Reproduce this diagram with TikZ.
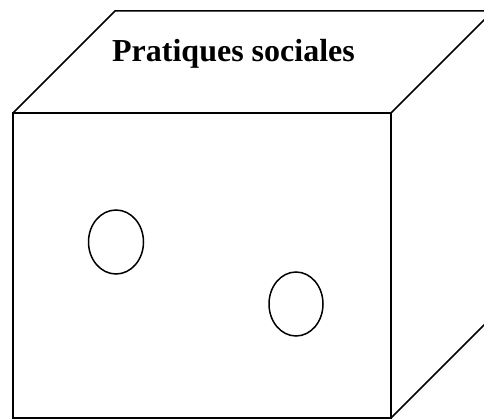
\documentclass[tikz,border=0pt]{standalone}
\usepackage{fontspec}
\setmainfont{Liberation Serif}
\begin{document}
\begin{tikzpicture}[x=1pt,y=-1pt,
  edge/.style={line width=1.5pt,line join=miter},
  hole/.style={line width=1.5pt}]
\useasboundingbox (0,0) rectangle (484,419);
\clip (0,0) rectangle (484,419);
\coordinate (ftl) at (13,113);
\coordinate (ftr) at (391,113);
\coordinate (fbl) at (13,418);
\coordinate (fbr) at (391,418);
\coordinate (btl) at (115,11);
\coordinate (btr) at (493,11);
\coordinate (bbr) at (493,316);
\draw[edge] (ftl) rectangle (fbr);
\draw[edge] (ftl) -- (btl) -- (btr) -- (ftr);
\draw[edge] (btr) -- (bbr) -- (fbr);
\node[anchor=base,font=\bfseries\fontsize{32}{36}\selectfont,inner sep=0pt] (title) at (233.5,62) {Pratiques sociales};
\draw[hole] (116,242) ellipse [x radius=27.5, y radius=32];
\draw[hole] (296,304) ellipse [x radius=27, y radius=32];
\end{tikzpicture}
\end{document}
